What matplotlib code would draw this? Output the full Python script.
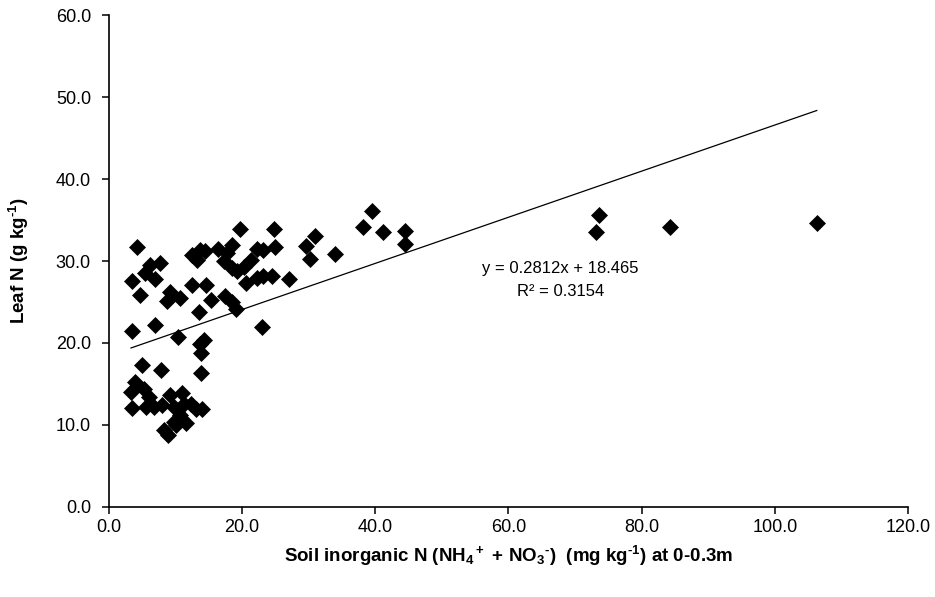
import matplotlib
matplotlib.use("Agg")
from matplotlib import pyplot as plt
import numpy as np

plt.rcParams['font.family'] = ['Liberation Sans', 'DejaVu Sans']
plt.rcParams['mathtext.default'] = 'regular'

# soil inorganic N (mg/kg) and leaf N (g/kg)
soil_n = [4.2, 3.4, 4.7, 5.4, 6.2, 7.7, 6.9, 8.7, 9.2, 10.7,
          12.4, 12.4, 13.2, 13.7, 14.4, 14.6, 13.5, 15.3, 16.4, 17.2,
          17.7, 18.5, 19.7, 17.4, 18.5, 19.1, 18.4, 19.2, 20.2, 20.6,
          21.3, 22.2, 22.2, 23.1, 23.1, 24.5, 24.9, 24.8, 27.1, 23.0,
          29.6, 30.9, 30.2, 34.0, 38.1, 39.5, 41.2, 44.4, 44.4,
          73.6, 73.1, 84.3, 106.3,
          3.4, 6.9, 10.3, 14.2, 13.7,
          13.8, 13.8,
          4.9, 7.8, 3.9, 3.3, 5.3, 6.0, 3.4, 5.5, 6.8, 8.0,
          9.2, 10.9, 9.8, 12.3, 13.0, 14.0, 10.7, 9.7, 11.6, 8.2,
          8.8, 10.0, 11.2]
leaf_n = [31.7, 27.6, 25.8, 28.5, 29.5, 29.8, 27.8, 25.1, 26.2, 25.5,
          27.1, 30.7, 30.1, 31.3, 31.2, 27.1, 23.8, 25.2, 31.5, 30.0,
          31.0, 32.0, 33.9, 25.7, 25.0, 24.2, 29.2, 28.8, 29.3, 27.3,
          30.1, 31.5, 27.9, 28.2, 31.3, 28.2, 31.7, 33.9, 27.8, 22.0,
          31.8, 33.0, 30.3, 30.8, 34.1, 36.1, 33.5, 33.6, 32.1,
          35.6, 33.5, 34.1, 34.6,
          21.5, 22.2, 20.7, 20.4, 19.9,
          18.8, 16.3,
          17.3, 16.7, 15.3, 14.0, 14.4, 13.4, 12.1, 12.2, 12.2, 12.4,
          13.6, 13.9, 12.2, 12.5, 12.0, 12.0, 11.2, 10.4, 10.2, 9.4,
          8.8, 10.0, 12.6]

slope = 0.2812
intercept = 18.465
r2 = 0.3154

fig = plt.figure(figsize=(9.35, 5.97), dpi=100)
ax = fig.add_axes([0.1166, 0.1508, 0.8545, 0.8240])

ax.plot(soil_n, leaf_n, linestyle='none', marker='D', ms=8.4,
        mfc='black', mec='black', mew=0.5, zorder=3)

xs = np.array([min(soil_n), max(soil_n)])
ax.plot(xs, slope * xs + intercept, color='black', lw=0.9, zorder=2)

ax.text(67.8, 29.1, "y = %.4fx + %.3f" % (slope, intercept),
        ha='center', va='center', fontsize=12)
ax.text(67.8, 26.3, "R² = %.4f" % r2, ha='center', va='center', fontsize=12)

ax.set_xlim(0, 120)
ax.set_ylim(0, 60)
ax.set_xticks(np.arange(0, 121, 20))
ax.set_yticks(np.arange(0, 61, 10))
ax.set_xticklabels(["%.1f" % v for v in np.arange(0, 121, 20)])
ax.set_yticklabels(["%.1f" % v for v in np.arange(0, 61, 10)])

for side in ['top', 'right']:
    ax.spines[side].set_visible(False)
for side in ['left', 'bottom']:
    ax.spines[side].set_linewidth(1.2)
    ax.spines[side].set_color('black')

ax.tick_params(axis='both', direction='out', length=5, width=1.1,
               labelsize=13, colors='black')
ax.tick_params(axis='y', pad=8)
ax.tick_params(axis='x', pad=4)

ax.set_ylabel("Leaf N (g kg$^{\u20101}$)", fontsize=13.5, fontweight='bold',
              labelpad=18)
ax.set_xlabel("Soil inorganic N (NH$_4$$^+$ + NO$_3$$^{\u2010}$)  (mg kg$^{\u20101}$) at 0-0.3m",
              fontsize=13.5, fontweight='bold', labelpad=5)

plt.savefig('out.png', dpi=100)
